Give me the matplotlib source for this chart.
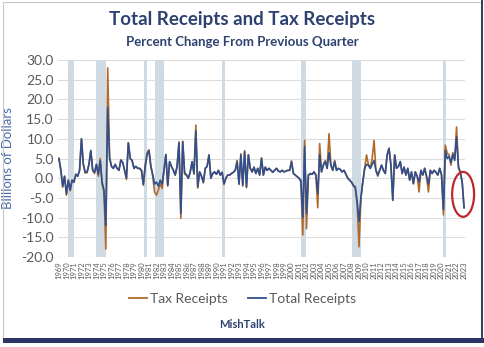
import matplotlib
matplotlib.use("Agg")
import matplotlib.pyplot as plt
from matplotlib.patches import Rectangle, Ellipse
from matplotlib.lines import Line2D

# quarterly % change, 1969Q1 .. 2023Q1
total = [
    5.0, 2.0, -2.0, 0.5,     # 1969
    -4.0, -0.5, -3.0, -0.5,  # 1970
    -1.0, 1.0, 0.5, 2.0,     # 1971
    10.0, 3.5, 1.5, 1.5,     # 1972
    3.5, 7.0, 2.0, 1.5,      # 1973
    3.5, 1.0, 4.5, -1.0,     # 1974
    -3.0, -12.0, 18.0, 5.0,  # 1975
    3.0, 2.5, 3.5, 2.5,      # 1976
    2.0, 4.5, 4.0, 2.0,      # 1977
    0.0, 9.0, 5.0, 4.5,      # 1978
    2.5, 3.0, 2.5, 2.5,      # 1979
    2.0, -1.5, 3.0, 6.0,     # 1980
    7.0, 3.0, 1.0, -1.5,     # 1981
    -1.0, -2.0, -0.5, -1.5,  # 1982
    2.0, 6.0, -1.8, 4.2,     # 1983
    3.0, 2.0, 0.8, 3.0,      # 1984
    9.0, -9.0, 9.3, 1.5,     # 1985
    0.8, 0.0, 1.6, 4.2,      # 1986
    1.2, 12.0, -2.2, 1.6,    # 1987
    0.5, -1.0, 2.5, 3.0,     # 1988
    5.9, 0.0, 1.2, 1.6,      # 1989
    1.0, 2.0, 0.8, 1.5,      # 1990
    -1.4, 0.0, 0.8, 0.8,     # 1991
    1.2, 1.5, 2.0, 4.2,      # 1992
    -1.4, 5.9, -1.8, 6.7,    # 1993
    -2.2, 5.9, 2.5, 1.6,     # 1994
    2.8, 1.2, 2.5, 0.8,      # 1995
    5.0, 0.8, 2.8, 2.0,      # 1996
    2.5, 2.0, 1.5, 2.0,      # 1997
    2.5, 1.8, 1.6, 2.0,      # 1998
    1.6, 1.8, 2.0, 2.0,      # 1999
    4.2, 1.2, 0.8, 0.4,      # 2000
    0.0, -0.5, -10.0, 8.0,   # 2001
    -9.0, 0.8, 1.2, 1.0,     # 2002
    1.6, 0.8, -4.0, 6.0,     # 2003
    1.6, 3.3, 4.2, 2.5,      # 2004
    6.5, 3.3, 2.0, 4.2,      # 2005
    2.0, 2.5, 2.2, 1.6,      # 2006
    2.0, 1.0, 0.0, -0.5,     # 2007
    -1.0, -1.8, -2.2, -6.0,  # 2008
    -11.0, -5.0, -1.0, 2.5,  # 2009
    3.5, 3.3, 2.5, 3.5,      # 2010
    4.5, 2.0, 0.8, 2.0,      # 2011
    3.3, 2.0, 1.2, 5.9,      # 2012
    7.6, 3.3, -5.6, 5.9,     # 2013
    2.5, 3.0, 4.2, 1.2,      # 2014
    2.8, 0.8, 2.5, -0.5,     # 2015
    1.6, -1.4, 1.6, 0.5,     # 2016
    -1.0, 2.0, 0.8, 2.5,     # 2017
    0.4, -1.5, 2.0, 1.2,     # 2018
    2.0, 1.5, 0.8, 2.5,      # 2019
    0.8, -8.0, 7.0, 5.0,     # 2020
    5.5, 4.0, 6.0, 4.5,      # 2021
    10.5, 3.0, 1.5, -1.0,    # 2022
    -7.5,                    # 2023
]

tax = [
    5.0, 2.2, -2.3, 0.5,     # 1969
    -4.3, -0.5, -3.2, -0.5,  # 1970
    -1.0, 1.0, 0.5, 2.0,     # 1971
    10.0, 3.5, 1.3, 1.5,     # 1972
    3.5, 7.0, 2.0, 1.2,      # 1973
    3.5, 0.5, 5.0, -1.5,     # 1974
    -3.5, -18.0, 28.0, 5.5,  # 1975
    3.0, 2.5, 3.5, 2.5,      # 1976
    2.0, 4.7, 4.0, 2.0,      # 1977
    -0.3, 9.0, 5.0, 4.5,     # 1978
    2.5, 3.0, 2.5, 2.5,      # 1979
    2.0, -1.8, 3.2, 6.5,     # 1980
    7.2, 3.0, 0.5, -3.5,     # 1981
    -4.3, -3.0, -1.4, -2.6,  # 1982
    2.0, 6.0, -2.0, 4.2,     # 1983
    3.0, 2.0, 0.8, 3.0,      # 1984
    9.2, -10.2, 9.3, 1.0,    # 1985
    0.8, 0.0, 1.6, 4.2,      # 1986
    1.0, 13.5, -2.5, 1.6,    # 1987
    0.5, -1.2, 2.5, 3.0,     # 1988
    5.9, 0.0, 1.2, 1.6,      # 1989
    1.0, 2.0, 0.8, 1.5,      # 1990
    -1.6, 0.0, 0.8, 0.8,     # 1991
    1.2, 1.5, 2.0, 4.5,      # 1992
    -1.6, 6.2, -2.0, 7.0,    # 1993
    -2.4, 6.0, 2.5, 1.6,     # 1994
    2.8, 1.2, 2.5, 0.8,      # 1995
    5.2, 0.8, 2.8, 2.0,      # 1996
    2.5, 2.0, 1.5, 2.0,      # 1997
    2.5, 1.8, 1.6, 2.0,      # 1998
    1.6, 1.8, 2.0, 2.0,      # 1999
    4.4, 1.2, 0.8, 0.4,      # 2000
    0.0, -1.0, -14.4, 9.6,   # 2001
    -12.8, 0.8, 1.0, 1.0,    # 2002
    1.6, 0.8, -7.5, 8.8,     # 2003
    1.6, 3.5, 4.5, 2.5,      # 2004
    11.3, 3.3, 2.0, 4.5,     # 2005
    2.0, 2.5, 2.2, 1.6,      # 2006
    2.0, 1.0, 0.0, -0.5,     # 2007
    -1.0, -2.0, -2.5, -6.5,  # 2008
    -17.4, -5.0, -1.0, 2.5,  # 2009
    5.9, 3.5, 2.5, 5.0,      # 2010
    9.6, 2.0, 0.5, 2.0,      # 2011
    3.3, 2.0, 1.2, 6.0,      # 2012
    7.6, 3.3, -5.6, 5.9,     # 2013
    2.5, 3.0, 4.2, 1.2,      # 2014
    2.8, 0.8, 2.5, -0.5,     # 2015
    1.6, -1.4, 1.6, 0.5,     # 2016
    -3.5, 2.0, 0.8, 2.5,     # 2017
    0.4, -3.5, 2.0, 1.2,     # 2018
    2.0, 1.5, 0.8, 2.5,      # 2019
    0.8, -9.3, 8.4, 6.3,     # 2020
    6.0, 3.3, 6.5, 5.0,      # 2021
    13.0, 2.5, 1.5, -1.0,    # 2022
    -7.5,                    # 2023
]

years = list(range(1969, 2024))
# recession bands, in quarter index units
recessions = [(4.6, 8.1), (20.0, 25.0), (45.3, 47.1), (51.2, 55.9),
              (86.8, 88.6), (129.0, 131.5), (156.2, 161.2), (204.6, 206.4)]

navy = '#2E4270'
tax_color = '#B06A2C'
total_color = '#2F4F8F'
grid_color = '#DCDCDC'
text_gray = '#595959'
font = ['Lato', 'DejaVu Sans']

fig = plt.figure(figsize=(4.85, 3.47), dpi=100)
ax = fig.add_axes([58 / 485, 1 - 257 / 347, (465 - 58) / 485, (257 - 60) / 347])

for a, b in recessions:
    ax.axvspan(a, b, color='#D0DAE3', lw=0)

q = list(range(len(total)))
ax.plot(q, tax, color=tax_color, lw=1.2, label='Tax Receipts')
ax.plot(q, total, color=total_color, lw=1.2, label='Total Receipts')

ax.set_ylim(-20, 30)
ax.set_xlim(-0.5, len(total) - 0.5)
ax.set_yticks(range(-20, 31, 5))
ax.set_yticklabels(['%.1f' % v for v in range(-20, 31, 5)], fontsize=10,
                   color=text_gray, family=font)
ax.set_xticks([4 * (y - 1969) for y in years])
ax.set_xticklabels([str(y) for y in years], rotation=90, fontsize=5.5,
                   color=text_gray, family=font)
ax.tick_params(length=0, pad=3)
ax.grid(axis='y', color=grid_color, lw=0.8)
ax.set_axisbelow(True)
for s in ax.spines.values():
    s.set_visible(False)

ax.set_ylabel('Billions of Dollars', fontsize=9.5, color='#4A6BA8',
              family=font, labelpad=5)

# red circle around the last drop
ax.add_patch(Ellipse((215.5, -4.1), 11.7, 11.4, fill=False, ec='#C0272D',
                     lw=1.6, zorder=5, clip_on=False))

fig.text(0.5, 1 - 20 / 347, 'Total Receipts and Tax Receipts', ha='center',
         va='center', fontsize=13.5, fontweight='bold', color=navy, family=font)
fig.text(0.5, 1 - 42 / 347, 'Percent Change From Previous Quarter', ha='center',
         va='center', fontsize=9.5, fontweight='bold', color=navy, family=font)

handles = [Line2D([], [], color=tax_color, lw=1.3),
           Line2D([], [], color=total_color, lw=1.3)]
leg = fig.legend(handles, ['Tax Receipts', 'Total Receipts'], loc='center',
                 bbox_to_anchor=(0.5, 1 - 299 / 347), ncol=2, frameon=False,
                 handlelength=1.3, handletextpad=0.2, columnspacing=1.5,
                 prop={'family': font, 'size': 10})
for t in leg.get_texts():
    t.set_color(text_gray)

fig.text(0.5, 1 - 324 / 347, 'MishTalk', ha='center', va='center',
         fontsize=8, fontweight='bold', color=navy, family=font)

# frame and bottom bar
fig.patches.append(Rectangle((3 / 485, 5 / 347), 478 / 485, 340 / 347,
                             transform=fig.transFigure, fill=False,
                             ec='#C8C8C8', lw=0.8))
fig.patches.append(Rectangle((481 / 485, 5 / 347), 2.5 / 485, 342 / 347,
                             transform=fig.transFigure, color='#3A3F5C', lw=0))
fig.patches.append(Rectangle((3 / 485, 4 / 347), 482 / 485, 5 / 347,
                             transform=fig.transFigure, color='#2B3566', lw=0))

fig.savefig('out.png', dpi=100)
